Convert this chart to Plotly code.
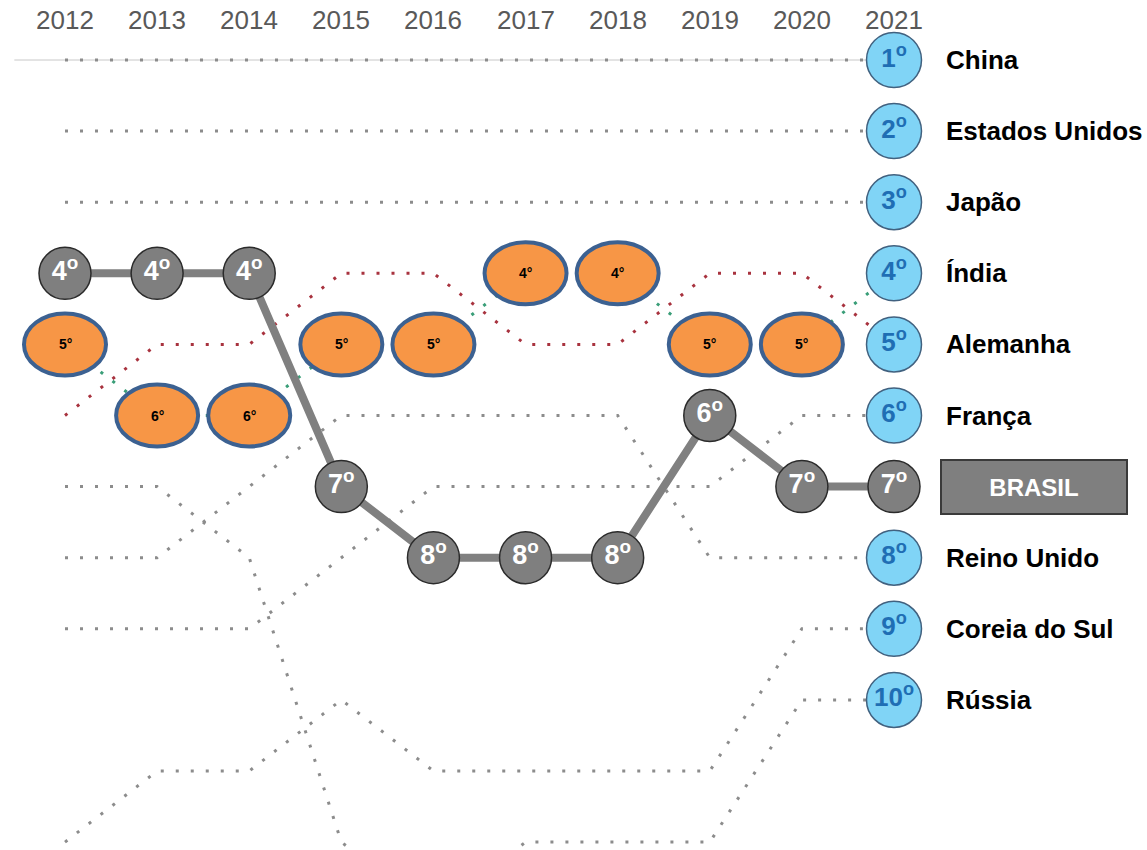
import plotly.graph_objects as go

# ---------------- data ----------------
years = [2012, 2013, 2014, 2015, 2016, 2017, 2018, 2019, 2020, 2021]

china          = [1, 1, 1, 1, 1, 1, 1, 1, 1, 1]
estados_unidos = [2, 2, 2, 2, 2, 2, 2, 2, 2, 2]
japao          = [3, 3, 3, 3, 3, 3, 3, 3, 3, 3]
india          = [5, 6, 6, 5, 5, 4, 4, 5, 5, 4]
alemanha       = [6, 5, 5, 4, 4, 5, 5, 4, 4, 5]
franca         = [9, 9, 9, 8, 7, 7, 7, 7, 6, 6]
brasil         = [4, 4, 4, 7, 8, 8, 8, 6, 7, 7]
reino_unido    = [8, 8, 7, 6, 6, 6, 6, 8, 8, 8]
coreia_do_sul  = [12, 11, 11, 10, 11, 11, 11, 11, 9, 9]
russia         = [7, 7, 8, 12, 13, 12, 12, 12, 10, 10]

country_names = ["China", "Estados Unidos", "Japão", "Índia", "Alemanha",
                 "França", "Reino Unido", "Coreia do Sul", "Rússia"]
country_ranks = [china, estados_unidos, japao, india, alemanha,
                 franca, reino_unido, coreia_do_sul, russia]

# ---------------- style ----------------
W, H = 1147, 850
px_per_year = (894 - 65) / 9
x_range = [years[0] - 65 / px_per_year, years[0] - 65 / px_per_year + W / px_per_year]
px_per_rank = 71.1
y_range = [1 + (H - 60) / px_per_rank, 1 - 60 / px_per_rank]

dot_colors = {"Índia": "#3a9e78", "Alemanha": "#a8323e"}
GRAY_DOT = "#8c8c8c"
FONT = "Liberation Sans, Arial, sans-serif"

fig = go.Figure()

# thin solid guide line on the China row
fig.add_shape(type="line", x0=years[0] - 0.55, x1=years[-1], y0=china[0], y1=china[-1],
              line=dict(color="#c8c8c8", width=1), layer="below")

# dotted lines for the other countries
for name, ranks in zip(country_names, country_ranks):
    fig.add_trace(go.Scatter(
        x=years, y=ranks, mode="lines",
        line=dict(color=dot_colors.get(name, GRAY_DOT), width=3, dash="3px,12px"),
        hoverinfo="skip", showlegend=False))

# Brasil highlighted line
fig.add_trace(go.Scatter(
    x=years, y=brasil, mode="lines+markers+text",
    line=dict(color="#808080", width=8),
    marker=dict(size=52, color="#7f7f7f", line=dict(color="#2b2b2b", width=1.5)),
    text=[f"{r}<sup>o</sup>" for r in brasil], textposition="middle center",
    textfont=dict(color="white", size=27, family=FONT, weight="bold"),
    hoverinfo="skip", showlegend=False))

# final-year blue circles for the other countries
fig.add_trace(go.Scatter(
    x=[years[-1]] * len(country_ranks), y=[r[-1] for r in country_ranks],
    mode="markers+text",
    marker=dict(size=55, color="#80d4f6", line=dict(color="#41617f", width=1.5)),
    text=[f"{r[-1]}<sup>o</sup>" for r in country_ranks], textposition="middle center",
    textfont=dict(color="#1f6eb4", size=26, family=FONT, weight="bold"),
    hoverinfo="skip", showlegend=False))

# orange ellipses on the Índia path (2012-2020)
hx = 41 / px_per_year
hy = 31 / px_per_rank
for yr, rk in zip(years[:-1], india[:-1]):
    fig.add_shape(type="circle", x0=yr - hx, x1=yr + hx, y0=rk - hy, y1=rk + hy,
                  fillcolor="#f79646", line=dict(color="#3c6191", width=4), layer="above")
    fig.add_annotation(x=yr, y=rk, text=f"{rk}°", showarrow=False,
                       font=dict(color="black", size=14, family=FONT, weight="bold"))

# country labels
for name, ranks in zip(country_names, country_ranks):
    fig.add_annotation(x=years[-1], y=ranks[-1], text=name, showarrow=False,
                       xanchor="left", yanchor="middle", xshift=50,
                       font=dict(color="black", size=26, family=FONT, weight="bold"))

fig.add_annotation(x=years[-1], y=brasil[-1], text="BRASIL", showarrow=False,
                   xanchor="left", yanchor="middle", xshift=46, width=184, height=52,
                   align="center", valign="middle",
                   bgcolor="#7f7f7f", bordercolor="#3a3a3a", borderwidth=2, borderpad=0,
                   font=dict(color="white", size=24, family=FONT, weight="bold"))

# year labels
for yr in years:
    fig.add_annotation(x=yr, y=1 - 20 / H, yref="paper", yanchor="middle",
                       text=str(yr), showarrow=False,
                       font=dict(color="#595959", size=26, family=FONT))

fig.update_layout(
    width=W, height=H, margin=dict(l=0, r=0, t=0, b=0),
    paper_bgcolor="white", plot_bgcolor="white",
    xaxis=dict(range=x_range, visible=False, fixedrange=True),
    yaxis=dict(range=y_range, visible=False, fixedrange=True),
    showlegend=False)

fig.write_html("out.html",
               config={"displayModeBar": False},
               post_script="document.body.style.margin='0';document.body.style.overflow='hidden';")
